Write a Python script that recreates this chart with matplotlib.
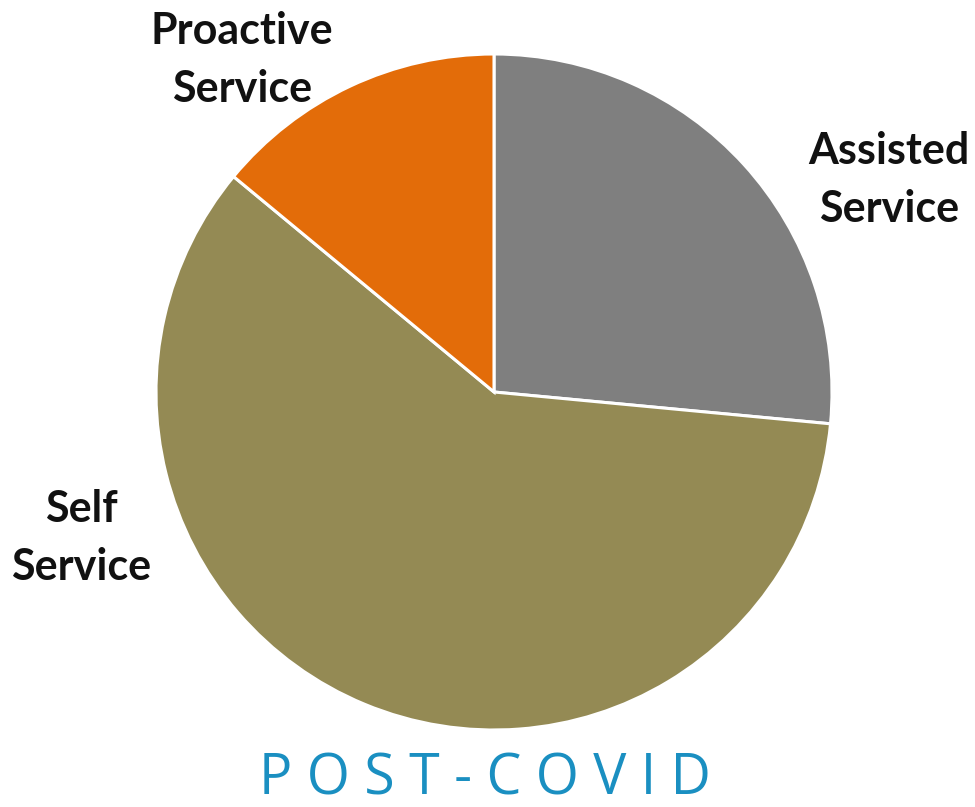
import matplotlib.pyplot as plt

# service mix after covid (percent of contacts)
labels = ['Assisted\nService', 'Self\nService', 'Proactive\nService']
shares = [26.5, 59.5, 14.0]
colors = ['#7f7f7f', '#948a54', '#e36c09']

W, H = 975, 807
fig = plt.figure(figsize=(W / 100, H / 100), dpi=100)

# pie centred at (494, 392) px with radius 338 px
cx, cy, r = 494, 392, 338
ax = fig.add_axes([(cx - r) / W, (H - cy - r) / H, 2 * r / W, 2 * r / H])
ax.pie(shares, colors=colors, startangle=90, counterclock=False, radius=1,
       wedgeprops={'edgecolor': 'white', 'linewidth': 2.2})
ax.set_xlim(-1, 1)
ax.set_ylim(-1, 1)
ax.set_aspect('equal')
ax.axis('off')

label_pos = [(889, 180), (81, 538), (242, 60)]
for text, (x, y) in zip(labels, label_pos):
    fig.text(x / W, 1 - y / H, text, ha='center', va='center',
             fontsize=31, fontweight='bold', family='Lato', color='#111111',
             linespacing=1.55)

fig.text(485 / W, 1 - 780 / H, 'P O S T - C O V I D', ha='center', va='center',
         fontsize=40, family='Open Sans', color='#1a8fc1')

fig.savefig('out.png', dpi=100)
